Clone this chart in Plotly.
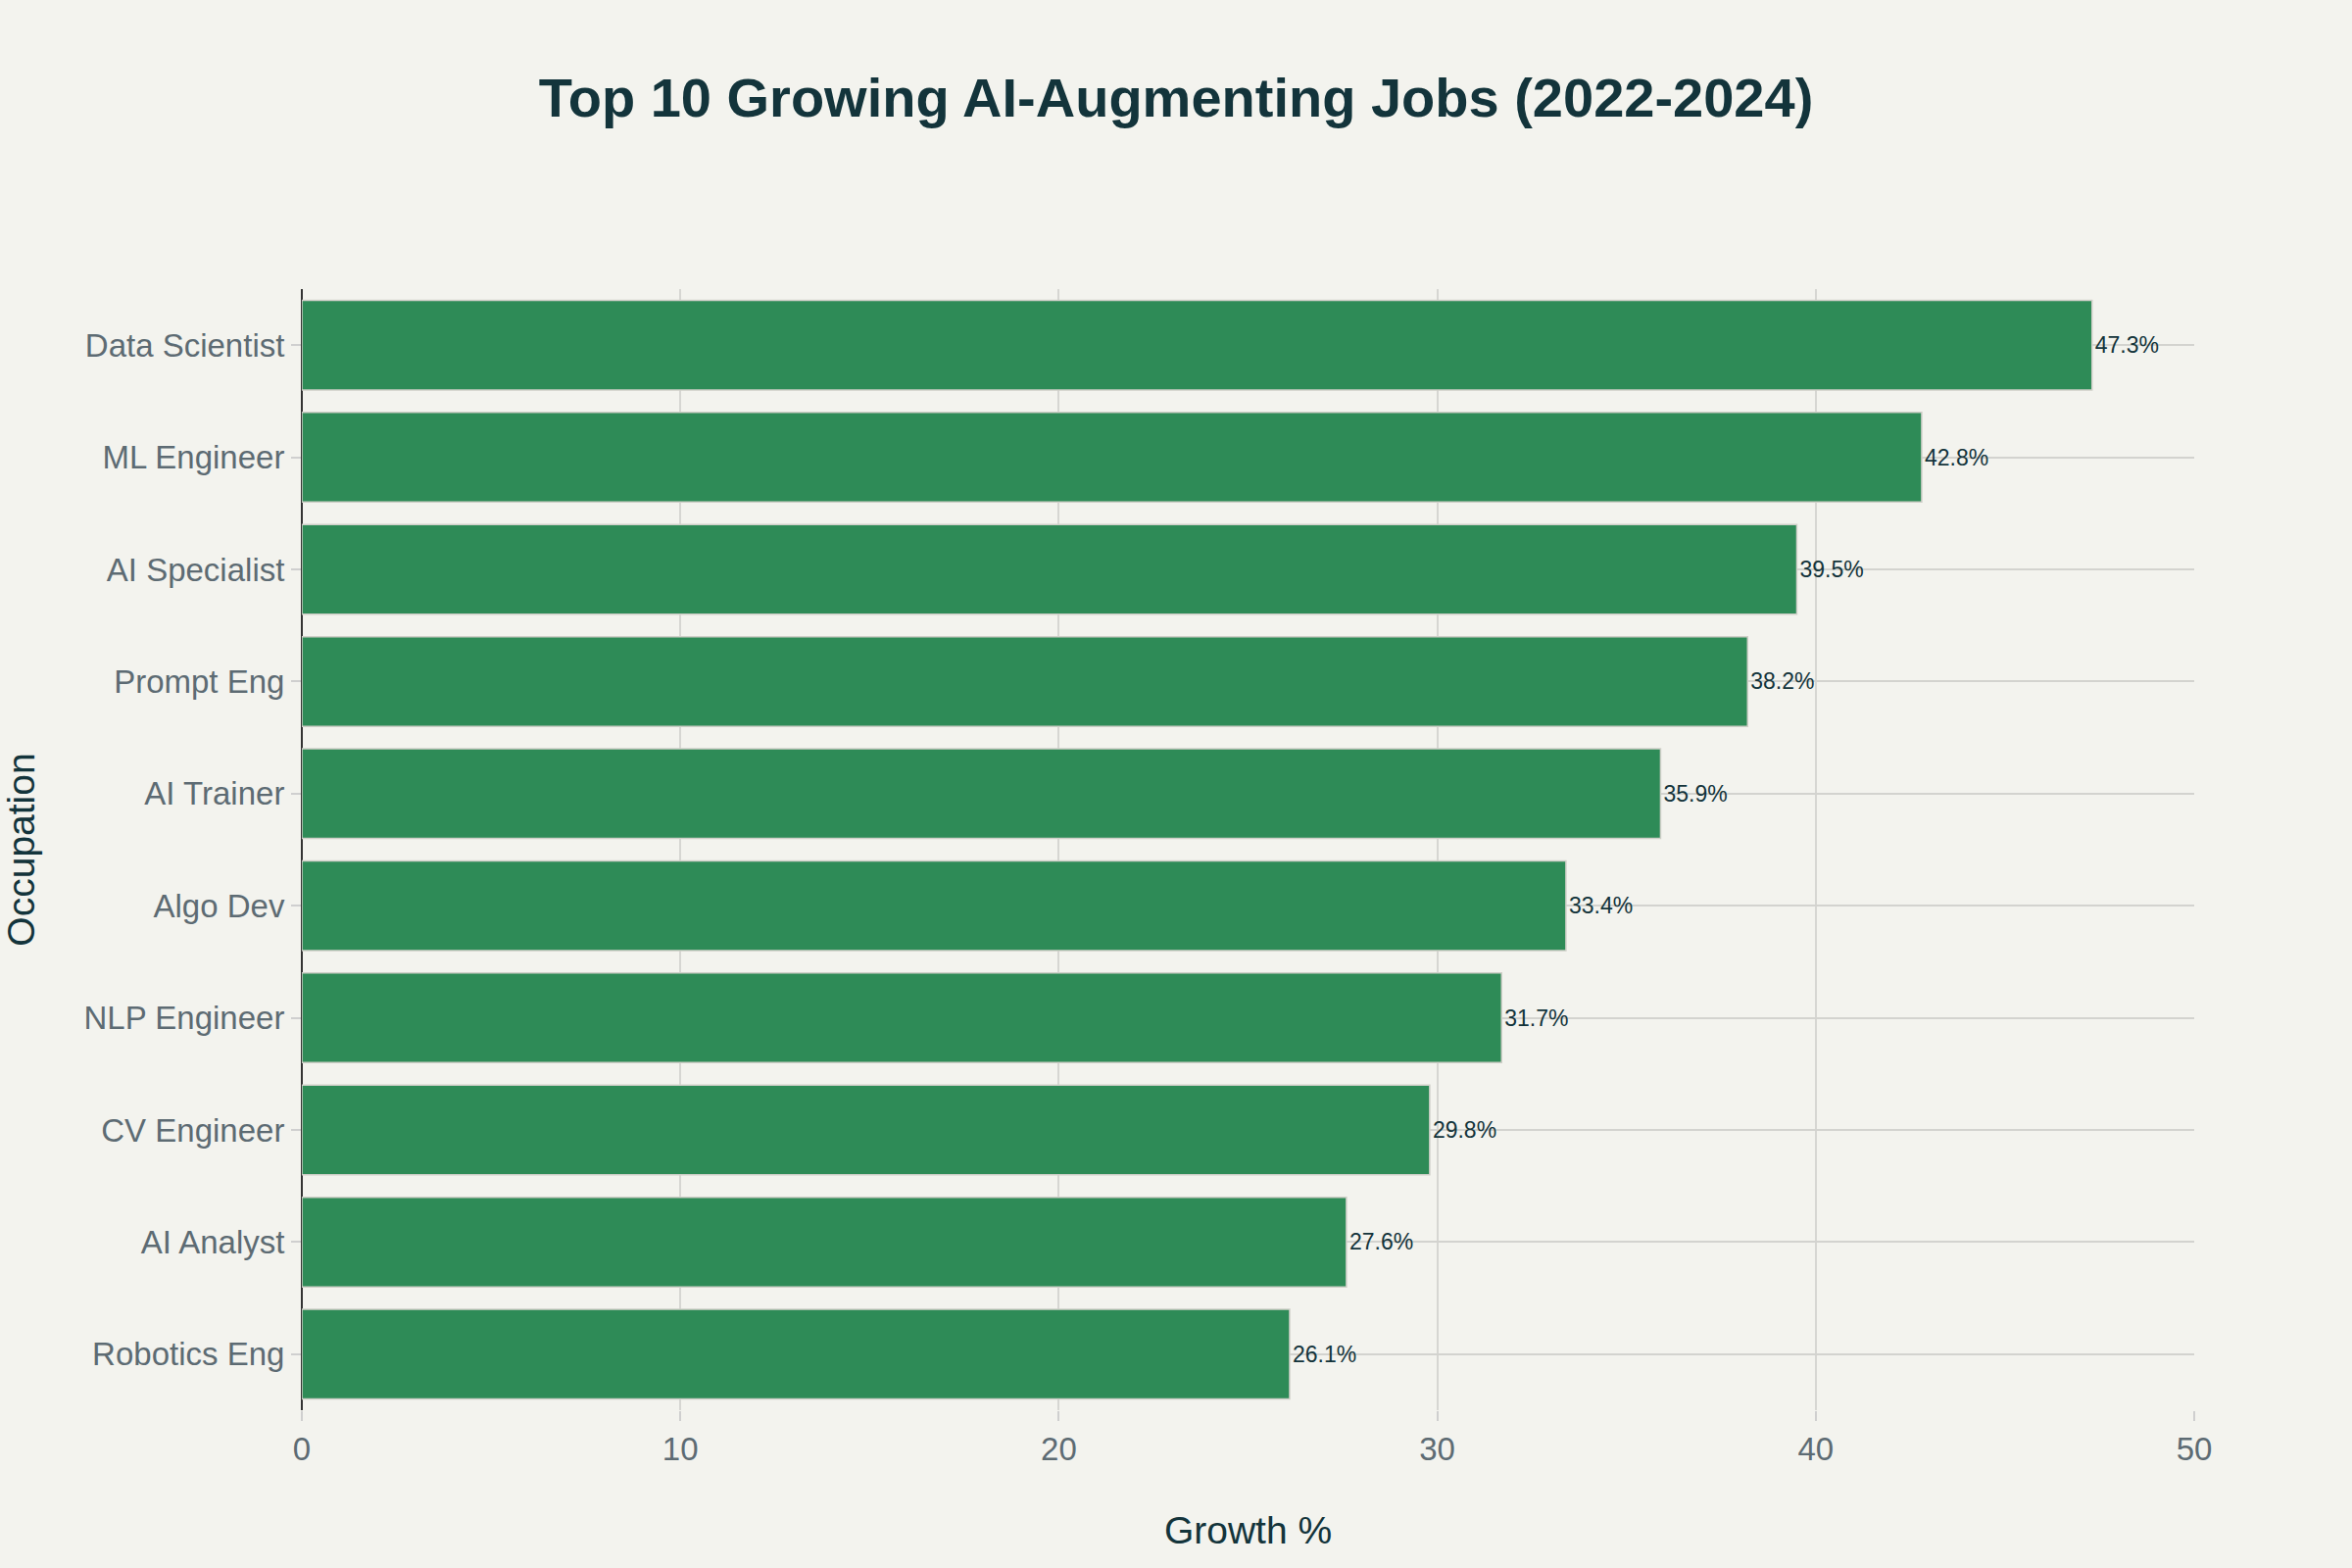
import plotly.graph_objects as go

# данные с графика (сверху вниз)
occupations = ["Data Scientist", "ML Engineer", "AI Specialist", "Prompt Eng", "AI Trainer",
               "Algo Dev", "NLP Engineer", "CV Engineer", "AI Analyst", "Robotics Eng"]
growth = [47.3, 42.8, 39.5, 38.2, 35.9, 33.4, 31.7, 29.8, 27.6, 26.1]
x_ticks = [0, 10, 20, 30, 40, 50]

FONT = "Liberation Sans, Arial, sans-serif"
DARK = "#13343B"
GREY = "#5D6B73"
BG = "#F3F3EE"

fig = go.Figure(data=[go.Bar(
    x=growth,
    y=occupations,
    orientation="h",
    marker=dict(color="#2E8B57", line=dict(color="#CFCFC8", width=1.5)),
    text=[f"{v}%" for v in growth],
    textposition="outside",
    textfont=dict(size=23, color=DARK, family=FONT),
    cliponaxis=False,
)])

fig.update_layout(
    width=2400, height=1600,
    paper_bgcolor=BG, plot_bgcolor=BG,
    font=dict(family=FONT, color=GREY),
    margin=dict(l=308, r=161, t=295, b=161, autoexpand=False),
    title=dict(text="<b>Top 10 Growing AI-Augmenting Jobs (2022-2024)</b>",
               x=0.5, xanchor="center", y=1 - 99 / 1600, yanchor="middle",
               font=dict(size=56, color=DARK, family=FONT)),
    showlegend=False,
    bargap=0.2,
)

fig.update_xaxes(
    range=[0, 50], tickvals=x_ticks,
    tickfont=dict(size=33, color=GREY),
    ticks="outside", ticklen=10, tickcolor="#CFCFCF", tickwidth=2,
    showgrid=True, gridcolor="#D6D6D2", gridwidth=1.5,
    zeroline=True, zerolinecolor="#333333", zerolinewidth=2,
    showline=False,
    title=dict(text="Growth %", font=dict(size=39, color=DARK), standoff=52),
)

fig.update_yaxes(
    autorange="reversed",
    tickfont=dict(size=33, color=GREY),
    ticks="outside", ticklen=10, tickcolor="#CFCFCF", tickwidth=2,
    showgrid=True, gridcolor="#D3D3CF", gridwidth=2,
    showline=False,
    title=dict(text="Occupation", font=dict(size=39, color=DARK), standoff=45),
)

# убираем отступ страницы, чтобы фигура встала ровно в окно
fig.write_html("out.html", config={"displayModeBar": False},
               post_script="document.body.style.margin='0';")
